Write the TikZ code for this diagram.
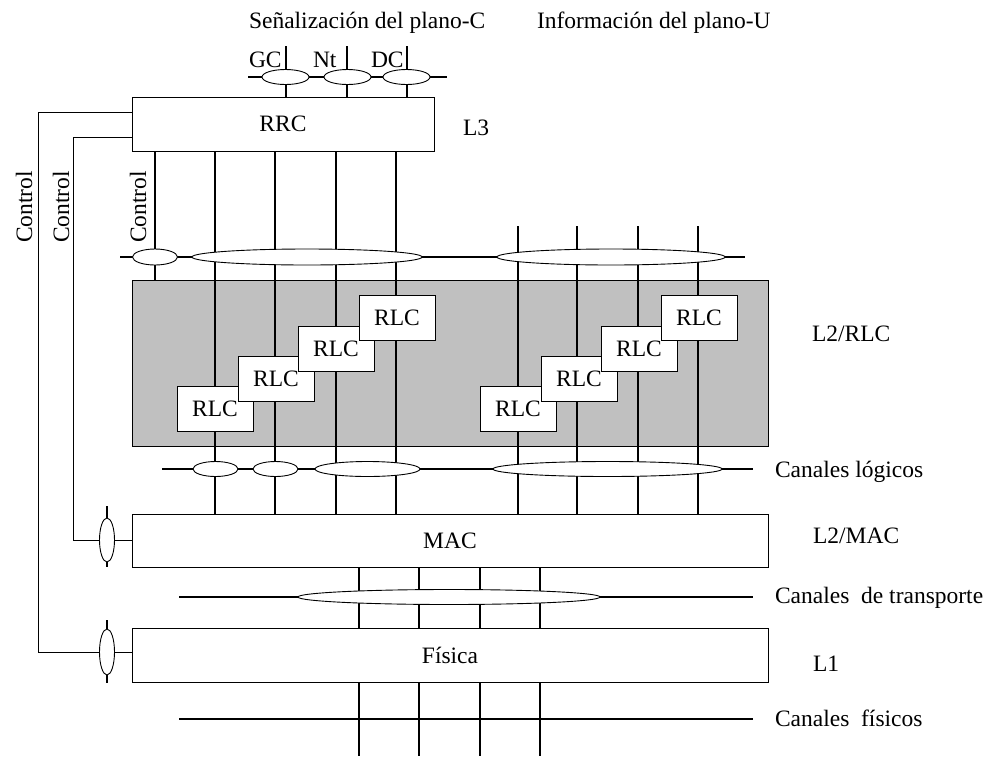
\documentclass[tikz,border=0pt]{standalone}
\usepackage{fontspec}
\setmainfont{Liberation Serif}
\usetikzlibrary{shapes.geometric}
\definecolor{panelgray}{RGB}{192,192,192}
\begin{document}
\begin{tikzpicture}[x=1pt,y=-1pt,
  every node/.style={font=\fontsize{23.5}{28}\selectfont, inner sep=0pt, outer sep=0pt},
  layerbox/.style={draw, line width=1pt, fill=white, rectangle, minimum width=636pt},
  rlcbox/.style={draw, line width=1pt, fill=white, rectangle, minimum width=76pt, minimum height=45pt},
  chan/.style={ellipse, draw, line width=0.9pt, fill=white, minimum height=15pt},
  vchan/.style={ellipse, draw, line width=0.9pt, fill=white, minimum width=15pt},
  thickline/.style={line width=2pt},
  thinline/.style={line width=1pt},
  lbl/.style={anchor=base west}]
\useasboundingbox (0,0) rectangle (988,756);

% ---- boxes
\node[draw, line width=1pt, fill=panelgray, minimum width=636pt, minimum height=166pt] (panel) at (450,363) {};
\node[draw, line width=1pt, fill=white, minimum width=302pt, minimum height=54pt] (rrc) at (283,124) {RRC};
\node[layerbox, minimum height=53pt] (mac) at (450,540.5) {MAC};
\node[layerbox, minimum height=54pt] (fis) at (450,655) {F\'isica};

% ---- top labels
\node[lbl] (tsc) at (249,28) {Señalización del plano-C};
\node[lbl] (tsu) at (537,28) {Información del plano-U};
\node[lbl] (lgc) at (249,67) {GC};
\node[lbl] (lnt) at (313,67) {Nt};
\node[lbl] (ldc) at (371,67) {DC};
\node[lbl] (l3) at (463,135) {L3};
\node[lbl] (l2rlc) at (812,341) {L2/RLC};
\node[lbl] (clog) at (775,477) {Canales lógicos};
\node[lbl] (l2mac) at (813,543) {L2/MAC};
\node[lbl] (ctra) at (775,603) {Canales\ \ de transporte};
\node[lbl] (l1) at (813,671) {L1};
\node[lbl] (cfis) at (775,726) {Canales\ \ físicos};
\node[rotate=90] (ctla) at (24,207) {Control};
\node[rotate=90] (ctlb) at (61,207) {Control};
\node[rotate=90] (ctlc) at (138,207) {Control};

% ---- lines: top channels
\draw[thickline] (248,77) -- (447,77);
\foreach \x in {286,347,407} \draw[thickline] (\x,46) -- (\x,97 |- rrc.north);
% RRC to RLC/MAC
\draw[thickline] (155,151 |- rrc.south) -- (155,280 |- panel.north);
\foreach \x in {215,275,336,396} \draw[thickline] (\x,151 |- rrc.south) -- (\x,514 |- mac.north);
\foreach \x in {518,577,638,698} \draw[thickline] (\x,226) -- (\x,514 |- mac.north);
\draw[thickline] (120,257) -- (745,257);
\draw[thickline] (162,469) -- (753,469);
% MAC to Fisica and below
\foreach \x in {359,419,480,540} {
  \draw[thickline] (\x,567 |- mac.south) -- (\x,628 |- fis.north);
  \draw[thickline] (\x,682 |- fis.south) -- (\x,756);
}
\draw[thickline] (179,597) -- (753,597);
\draw[thickline] (179,719) -- (753,719);
% control stubs
\draw[thickline] (107,506) -- (107,567);
\draw[thickline] (107,620) -- (107,683);

% ---- ellipses
\node[chan, minimum width=47pt] (egc) at (285.5,77) {};
\node[chan, minimum width=47pt] (ent) at (347.5,77) {};
\node[chan, minimum width=47pt] (edc) at (406.5,77) {};
\node[chan, minimum width=45pt, minimum height=16pt] (ectl) at (155,257) {};
\node[chan, minimum width=230pt, minimum height=16pt] (ecp) at (307,257) {};
\node[chan, minimum width=228pt, minimum height=16pt] (eup) at (611,257) {};
\node[chan, minimum width=45pt] (el1) at (215.5,469) {};
\node[chan, minimum width=45pt] (el2) at (275.5,469) {};
\node[chan, minimum width=105pt] (el3) at (367.5,469) {};
\node[chan, minimum width=229pt] (el4) at (607.5,469) {};
\node[chan, minimum width=302pt] (etr) at (449,597) {};
\node[vchan, minimum height=44pt] (cmac) at (107,540) {};
\node[vchan, minimum height=46pt] (cfisn) at (107,652) {};

% ---- RLC entities
\foreach \x/\n in {215/a,518/e} \node[rlcbox] (rlc1\n) at (\x,408.5) {RLC};
\foreach \x/\n in {276/b,579/f} \node[rlcbox] (rlc2\n) at (\x,378.5) {RLC};
\foreach \x/\n in {336/c,639/g} \node[rlcbox] (rlc3\n) at (\x,348.5) {RLC};
\foreach \x/\n in {397/d,699/h} \node[rlcbox] (rlc4\n) at (\x,317.5) {RLC};

% ---- control paths
\draw[thinline] (rrc.west |- 0,112) -- (38,112) -- (38,652) -- (cfisn.west);
\draw[thinline] (cfisn.east) -- (cfisn.east -| fis.west);
\draw[thinline] (rrc.west |- 0,137) -- (73,137) -- (73,540) -- (cmac.west);
\draw[thinline] (cmac.east) -- (cmac.east -| mac.west);
\end{tikzpicture}
\end{document}
